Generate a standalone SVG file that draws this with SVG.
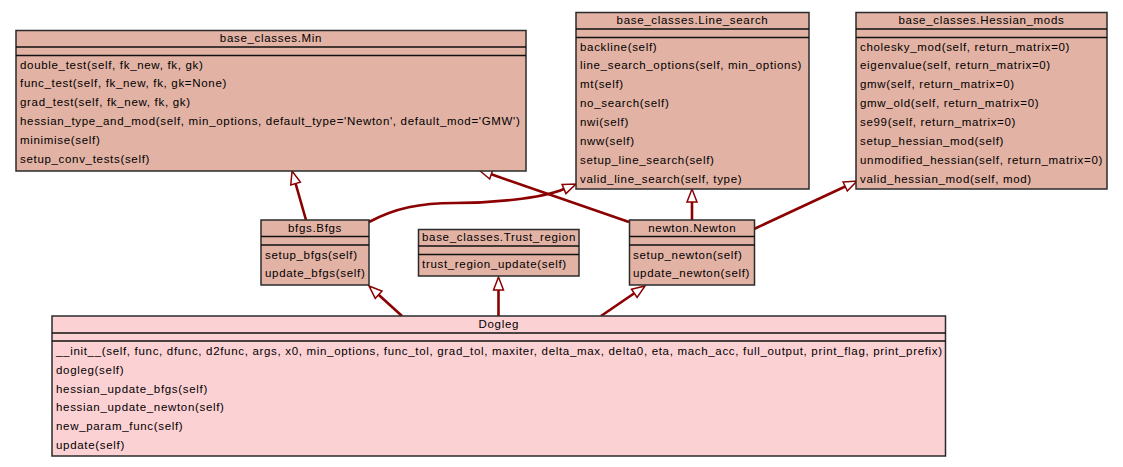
<svg xmlns="http://www.w3.org/2000/svg" width="1123" height="467" viewBox="0 0 1123 467">
<style>
  .box { fill: #e2b2a4; stroke: #2b2b2b; stroke-width: 1.5; }
  .main { fill: #fcd1d4; stroke: #2b2b2b; stroke-width: 1.5; }
  .sep { stroke: #111; stroke-width: 1.5; }
  text { font-family: "Liberation Sans", Arial, sans-serif; font-size: 11.5px; letter-spacing: 0.68px; fill: #000; }
  .t { text-anchor: middle; }
  .edge { fill: none; stroke: #8b0000; stroke-width: 2.6; }
</style>
<defs>
  <marker id="tri" viewBox="0 0 13 10" refX="0" refY="5" markerWidth="13" markerHeight="10" markerUnits="userSpaceOnUse" orient="auto" overflow="visible">
    <path d="M0,0 L13,5 L0,10 Z" fill="#ffffff" stroke="#8b0000" stroke-width="1.5"/>
  </marker>
</defs>
<rect width="1123" height="467" fill="#ffffff"/>

<g id="connectors">
  <path class="edge" d="M306,220 L295.6,183.5" marker-end="url(#tri)"/>
  <path class="edge" d="M369,222 C395,208 420,203 455,203 C490,203 540,199 564,189" marker-end="url(#tri)"/>
  <path class="edge" d="M629,222 L491.3,174.3" marker-end="url(#tri)"/>
  <path class="edge" d="M692,220 L692,202" marker-end="url(#tri)"/>
  <path class="edge" d="M754,229 L845.2,186.5" marker-end="url(#tri)"/>
  <path class="edge" d="M402,316 L378.6,294.7" marker-end="url(#tri)"/>
  <path class="edge" d="M498.5,316 L498.5,290" marker-end="url(#tri)"/>
  <path class="edge" d="M601,316 L634.3,293.3" marker-end="url(#tri)"/>
</g>

<g id="min">
  <rect class="box" x="16" y="30.5" width="510" height="140.5"/>
  <line class="sep" x1="16" y1="47" x2="526" y2="47"/>
  <line class="sep" x1="16" y1="55.5" x2="526" y2="55.5"/>
  <text class="t" x="271" y="42">base_classes.Min</text>
  <text x="20" y="68.5">double_test(self, fk_new, fk, gk)</text>
  <text x="20" y="87.4">func_test(self, fk_new, fk, gk=None)</text>
  <text x="20" y="106.3">grad_test(self, fk_new, fk, gk)</text>
  <text x="20" y="125.2">hessian_type_and_mod(self, min_options, default_type='Newton', default_mod='GMW')</text>
  <text x="20" y="144.1">minimise(self)</text>
  <text x="20" y="163">setup_conv_tests(self)</text>
</g>

<g id="line_search">
  <rect class="box" x="576" y="12.5" width="233" height="176.5"/>
  <line class="sep" x1="576" y1="29" x2="809" y2="29"/>
  <line class="sep" x1="576" y1="37.5" x2="809" y2="37.5"/>
  <text class="t" x="692.5" y="24">base_classes.Line_search</text>
  <text x="580" y="50.5">backline(self)</text>
  <text x="580" y="69.4">line_search_options(self, min_options)</text>
  <text x="580" y="88.3">mt(self)</text>
  <text x="580" y="107.2">no_search(self)</text>
  <text x="580" y="126.1">nwi(self)</text>
  <text x="580" y="145">nww(self)</text>
  <text x="580" y="163.9">setup_line_search(self)</text>
  <text x="580" y="182.8">valid_line_search(self, type)</text>
</g>

<g id="hessian_mods">
  <rect class="box" x="856" y="12.5" width="251" height="176.5"/>
  <line class="sep" x1="856" y1="29" x2="1107" y2="29"/>
  <line class="sep" x1="856" y1="37.5" x2="1107" y2="37.5"/>
  <text class="t" x="981.5" y="24">base_classes.Hessian_mods</text>
  <text x="860" y="50.5">cholesky_mod(self, return_matrix=0)</text>
  <text x="860" y="69.4">eigenvalue(self, return_matrix=0)</text>
  <text x="860" y="88.3">gmw(self, return_matrix=0)</text>
  <text x="860" y="107.2">gmw_old(self, return_matrix=0)</text>
  <text x="860" y="126.1">se99(self, return_matrix=0)</text>
  <text x="860" y="145">setup_hessian_mod(self)</text>
  <text x="860" y="163.9">unmodified_hessian(self, return_matrix=0)</text>
  <text x="860" y="182.8">valid_hessian_mod(self, mod)</text>
</g>

<g id="bfgs">
  <rect class="box" x="261" y="220" width="108" height="65"/>
  <line class="sep" x1="261" y1="236.5" x2="369" y2="236.5"/>
  <line class="sep" x1="261" y1="245" x2="369" y2="245"/>
  <text class="t" x="315" y="231.5">bfgs.Bfgs</text>
  <text x="265" y="258.5">setup_bfgs(self)</text>
  <text x="265" y="277.4">update_bfgs(self)</text>
</g>

<g id="trust_region">
  <rect class="box" x="418.5" y="229.5" width="160.5" height="46.5"/>
  <line class="sep" x1="418.5" y1="246" x2="579" y2="246"/>
  <line class="sep" x1="418.5" y1="254.5" x2="579" y2="254.5"/>
  <text class="t" x="499" y="241">base_classes.Trust_region</text>
  <text x="422" y="268">trust_region_update(self)</text>
</g>

<g id="newton">
  <rect class="box" x="629.5" y="220" width="125" height="65"/>
  <line class="sep" x1="629.5" y1="236.5" x2="754.5" y2="236.5"/>
  <line class="sep" x1="629.5" y1="245" x2="754.5" y2="245"/>
  <text class="t" x="692.3" y="231.5">newton.Newton</text>
  <text x="633" y="258.5">setup_newton(self)</text>
  <text x="633" y="277.4">update_newton(self)</text>
</g>

<g id="dogleg">
  <rect class="main" x="52" y="316" width="893.5" height="140"/>
  <line class="sep" x1="52" y1="333" x2="945.5" y2="333"/>
  <line class="sep" x1="52" y1="341" x2="945.5" y2="341"/>
  <text class="t" x="498.8" y="328">Dogleg</text>
  <text x="56" y="355">__init__(self, func, dfunc, d2func, args, x0, min_options, func_tol, grad_tol, maxiter, delta_max, delta0, eta, mach_acc, full_output, print_flag, print_prefix)</text>
  <text x="56" y="373.8">dogleg(self)</text>
  <text x="56" y="392.6">hessian_update_bfgs(self)</text>
  <text x="56" y="411.4">hessian_update_newton(self)</text>
  <text x="56" y="430.2">new_param_func(self)</text>
  <text x="56" y="449">update(self)</text>
</g>
</svg>
